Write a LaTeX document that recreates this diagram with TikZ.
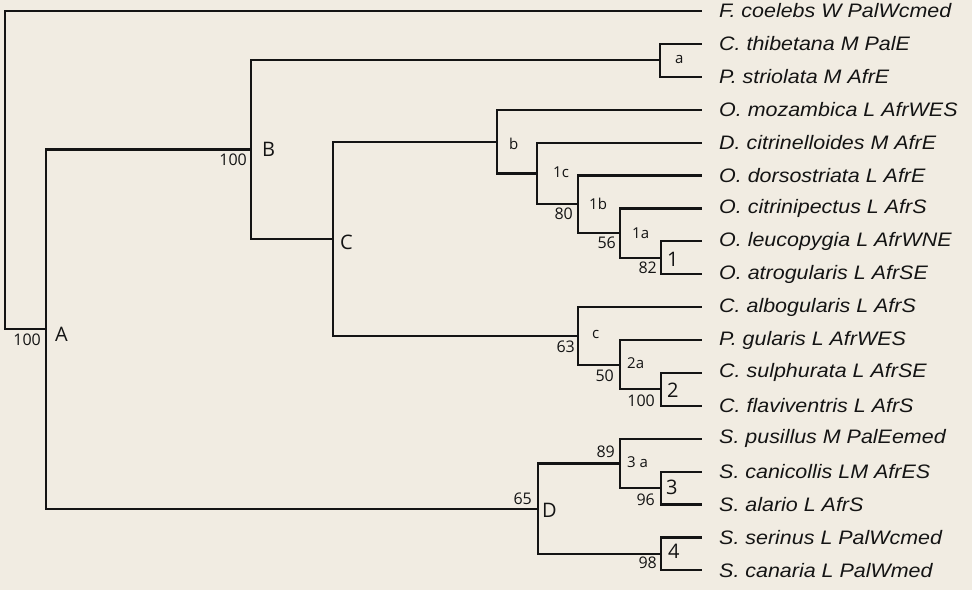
\documentclass[tikz,border=0pt]{standalone}
\usepackage{fontspec}
\setmainfont{Open Sans}
\newfontfamily\leaffont[FakeStretch=1.1]{Liberation Sans}
\usetikzlibrary{positioning}
\definecolor{paper}{RGB}{241,236,226}
\definecolor{ink}{RGB}{20,20,20}

\begin{document}
\begin{tikzpicture}[
  x=1pt, y=-1pt,
  branch/.style={draw=ink, line width=2.2pt},
  taxon/.style={anchor=west, inner xsep=17pt, inner ysep=0pt, text=ink,
    font=\leaffont\itshape\fontsize{19.5}{21}\selectfont},
  clade/.style={inner sep=0pt, text=ink, font=\fontsize{20}{22}\selectfont},
  sub/.style={inner sep=0pt, text=ink, font=\fontsize{15}{17}\selectfont},
  boot/.style={inner sep=0pt, text=ink, font=\fontsize{16}{18}\selectfont}]
\fill[paper] (0,0) rectangle (972,590);
\useasboundingbox (0,0) rectangle (972,590);

% taxa
\node[taxon] (fcoe) at (702,11)    {F. coelebs W PalWcmed};
\node[taxon] (cthi) at (702,43.9)  {C. thibetana M PalE};
\node[taxon] (pstr) at (702,76.8)  {P. striolata M AfrE};
\node[taxon] (omoz) at (702,109.7) {O. mozambica L AfrWES};
\node[taxon] (dcit) at (702,142.6) {D. citrinelloides M AfrE};
\node[taxon] (odor) at (702,175.5) {O. dorsostriata L AfrE};
\node[taxon] (ocit) at (702,208.4) {O. citrinipectus L AfrS};
\node[taxon] (oleu) at (702,241.3) {O. leucopygia L AfrWNE};
\node[taxon] (oatr) at (702,274.2) {O. atrogularis L AfrSE};
\node[taxon] (calb) at (702,307.1) {C. albogularis L AfrS};
\node[taxon] (pgul) at (702,340)   {P. gularis L AfrWES};
\node[taxon] (csul) at (702,372.9) {C. sulphurata L AfrSE};
\node[taxon] (cfla) at (702,405.8) {C. flaviventris L AfrS};
\node[taxon] (spus) at (702,438.7) {S. pusillus M PalEemed};
\node[taxon] (scan) at (702,471.6) {S. canicollis LM AfrES};
\node[taxon] (sala) at (702,504.5) {S. alario L AfrS};
\node[taxon] (sser) at (702,537.4) {S. serinus L PalWcmed};
\node[taxon] (scnr) at (702,570.3) {S. canaria L PalWmed};

% internal nodes
\coordinate (root) at (5,170);
\coordinate (A)    at (46,329.1);
\coordinate (B)    at (251,149.5);
\coordinate (a)    at (660,60.3);
\coordinate (C)    at (333,238.7);
\coordinate (b)    at (497,141.6);
\coordinate (n1c)  at (537,173.4);
\coordinate (n1b)  at (578,204.3);
\coordinate (n1a)  at (620,233.1);
\coordinate (n1)   at (661,257.7);
\coordinate (c)    at (578,335.9);
\coordinate (n2a)  at (620,364.7);
\coordinate (n2)   at (661,389.3);
\coordinate (D)    at (538,508.6);
\coordinate (n3a)  at (620,463.4);
\coordinate (n3)   at (661,488);
\coordinate (n4)   at (661,553.8);

% branches
\draw[branch] (root) |- (fcoe.west);
\draw[branch] (root) |- (A);
\draw[branch] (A) |- (B);
\draw[branch] (A) |- (D);
\draw[branch] (B) |- (a);
\draw[branch] (B) |- (C);
\draw[branch] (a) |- (cthi.west);
\draw[branch] (a) |- (pstr.west);
\draw[branch] (C) |- (b);
\draw[branch] (C) |- (c);
\draw[branch] (b) |- (omoz.west);
\draw[branch] (b) |- (n1c);
\draw[branch] (n1c) |- (dcit.west);
\draw[branch] (n1c) |- (n1b);
\draw[branch] (n1b) |- (odor.west);
\draw[branch] (n1b) |- (n1a);
\draw[branch] (n1a) |- (ocit.west);
\draw[branch] (n1a) |- (n1);
\draw[branch] (n1) |- (oleu.west);
\draw[branch] (n1) |- (oatr.west);
\draw[branch] (c) |- (calb.west);
\draw[branch] (c) |- (n2a);
\draw[branch] (n2a) |- (pgul.west);
\draw[branch] (n2a) |- (n2);
\draw[branch] (n2) |- (csul.west);
\draw[branch] (n2) |- (cfla.west);
\draw[branch] (D) |- (n3a);
\draw[branch] (D) |- (n4);
\draw[branch] (n3a) |- (spus.west);
\draw[branch] (n3a) |- (n3);
\draw[branch] (n3) |- (scan.west);
\draw[branch] (n3) |- (sala.west);
\draw[branch] (n4) |- (sser.west);
\draw[branch] (n4) |- (scnr.west);

% clade names
\node[clade, right=9pt of A, yshift=-5pt]   (lA) {A};
\node[clade, right=11pt of B]               (lB) {B};
\node[clade, right=7pt of C, yshift=-4pt]   (lC) {C};
\node[clade, right=4pt of D, yshift=-1.5pt] (lD) {D};
\node[clade, right=6pt of n1, yshift=-2pt]  (l1) {1};
\node[clade, right=6pt of n2, yshift=-1pt]  (l2) {2};
\node[clade, right=5pt of n3, yshift=1pt]   (l3) {3};
\node[clade, right=7pt of n4, yshift=2pt]   (l4) {4};
\node[sub, right=15pt of a, yshift=1pt]     (la) {a};
\node[sub, right=12pt of b, yshift=-2pt]    (lb) {b};
\node[sub, right=14pt of c, yshift=1pt]     (lc) {c};
\node[sub, right=16pt of n1c, yshift=1pt]   (l1c) {1c};
\node[sub, right=11pt of n1b]               (l1b) {1b};
\node[sub, right=12pt of n1a]               (l1a) {1a};
\node[sub, right=7pt of n2a, yshift=1.5pt]  (l2a) {2a};
\node[sub, right=7pt of n3a, yshift=1pt]    (l3a) {3 a};

% support values
\node[boot, anchor=north east] (sA)  at ([xshift=-5pt,yshift=-5pt]A)   {100};
\node[boot, anchor=north east] (sB)  at ([xshift=-4pt,yshift=-4pt]B)   {100};
\node[boot, anchor=north east] (s1b) at ([xshift=-5pt,yshift=-3pt]n1b) {80};
\node[boot, anchor=north east] (s1a) at ([xshift=-4pt,yshift=-4pt]n1a) {56};
\node[boot, anchor=north east] (s1)  at ([xshift=-4pt,yshift=-4pt]n1)  {82};
\node[boot, anchor=north east] (sc)  at ([xshift=-3pt,yshift=-5pt]c)   {63};
\node[boot, anchor=north east] (s2a) at ([xshift=-6pt,yshift=-5pt]n2a) {50};
\node[boot, anchor=north east] (s2)  at ([xshift=-6pt,yshift=-5pt]n2)  {100};
\node[boot, anchor=north east] (s3)  at ([xshift=-6pt,yshift=-6pt]n3)  {96};
\node[boot, anchor=north east] (s4)  at ([xshift=-4pt,yshift=-3pt]n4)  {98};
\node[boot, anchor=south east] (s3a) at ([xshift=-5pt,yshift=6pt]n3a)  {89};
\node[boot, anchor=south east] (sD)  at ([xshift=-6pt,yshift=4pt]D)    {65};
\end{tikzpicture}
\end{document}
